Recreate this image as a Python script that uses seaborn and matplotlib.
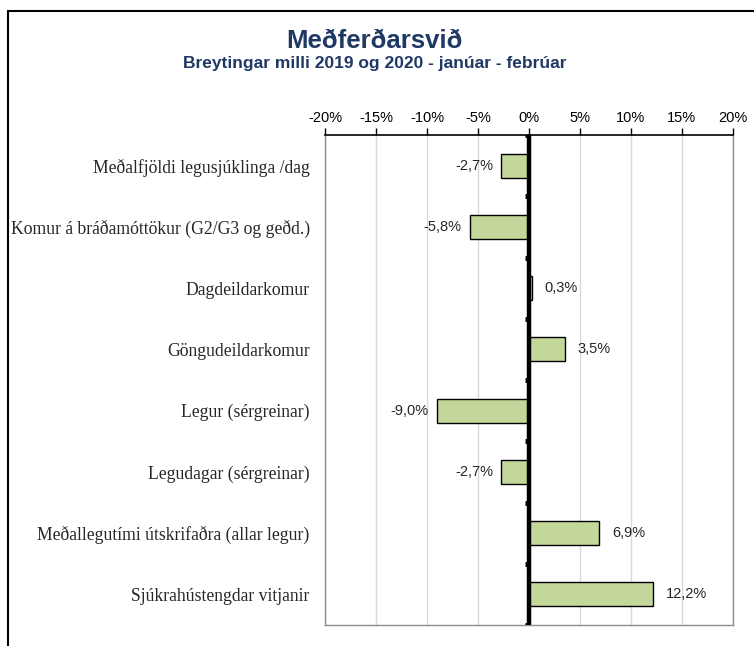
import seaborn as sns
import matplotlib.pyplot as plt
import matplotlib.ticker as mticker
from matplotlib.patches import Rectangle

# Data
categories = ['Meðalfjöldi legusjúklinga /dag',
              'Komur á bráðamóttökur (G2/G3 og geðd.)',
              'Dagdeildarkomur',
              'Göngudeildarkomur',
              'Legur (sérgreinar)',
              'Legudagar (sérgreinar)',
              'Meðallegutími útskrifaðra (allar legur)',
              'Sjúkrahústengdar vitjanir']
change_pct = [-2.7, -5.8, 0.3, 3.5, -9.0, -2.7, 6.9, 12.2]
xticks = [-20, -15, -10, -5, 0, 5, 10, 15, 20]

title_color = '#1F3864'
bar_color = '#C4D79B'

sns.set_style('white')
plt.rcParams['font.family'] = ['Liberation Sans', 'DejaVu Sans']

fig = plt.figure(figsize=(7.54, 6.46), dpi=100)
ax = fig.add_axes([0.431, 0.0325, 0.541, 0.7585])

sns.barplot(x=change_pct, y=categories, color=bar_color, edgecolor='black',
            linewidth=1.0, width=0.39, orient='h', saturation=1, ax=ax)

ax.set_xlim(-20, 20)
ax.set_ylim(len(categories) - 0.5, -0.5)
ax.set_xticks(xticks)
ax.xaxis.set_major_formatter(mticker.FuncFormatter(lambda v, p: f'{v:.0f}%'))
ax.xaxis.tick_top()
ax.tick_params(axis='x', direction='out', length=5, width=1, colors='black',
               labelsize=10.5, pad=2)
ax.tick_params(axis='y', length=0, pad=11)
for lab in ax.get_yticklabels():
    lab.set_fontfamily('Liberation Serif')
    lab.set_fontsize(12.7)

ax.grid(axis='x', color='#d9d9d9', linewidth=1)
ax.set_axisbelow(True)
for side in ['left', 'right', 'bottom']:
    ax.spines[side].set_color('#8c8c8c')
    ax.spines[side].set_linewidth(1)
ax.spines['top'].set_color('black')
ax.spines['top'].set_linewidth(1.2)

# thick zero line with small boundary marks
ax.axvline(0, color='black', linewidth=3.2, zorder=5)
bounds = [i - 0.5 for i in range(len(categories) + 1)]
ax.hlines(bounds, -0.4, 0, color='black', linewidth=3.5, zorder=5)

# value labels
for i, v in enumerate(change_pct):
    txt = f'{v:.1f}%'.replace('.', ',')
    if v >= 0:
        ax.annotate(txt, (v, i), xytext=(9, 0), textcoords='offset points',
                    ha='left', va='center', fontsize=10.5)
    else:
        ax.annotate(txt, (v, i), xytext=(-6, 0), textcoords='offset points',
                    ha='right', va='center', fontsize=10.5)

ax.set_xlabel('')
ax.set_ylabel('')

fig.text(0.497, 0.937, 'Meðferðarsvið', ha='center', va='center',
         fontsize=18.5, fontweight='bold', color=title_color)
fig.text(0.497, 0.901, 'Breytingar milli 2019 og 2020 - janúar - febrúar',
         ha='center', va='center', fontsize=12.5, fontweight='bold', color=title_color)

# outer chart border (only top/left visible in the crop)
fig.patches.append(Rectangle((0.0106, -0.1), 1.2, 1.083, transform=fig.transFigure,
                             fill=False, edgecolor='black', linewidth=1.5))

fig.savefig('out.png', dpi=100)
